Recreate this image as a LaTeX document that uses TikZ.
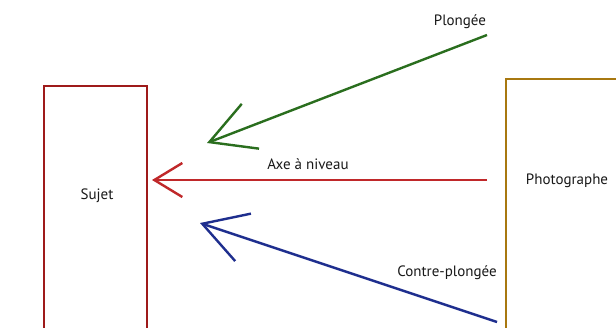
\documentclass[tikz,border=0pt]{standalone}
\usepackage{fontspec}
\setmainfont{PT Sans}
\usetikzlibrary{arrows.meta}
\definecolor{boxred}{HTML}{9E1A1A}
\definecolor{arrred}{HTML}{C0282A}
\definecolor{arrgreen}{HTML}{2A6E1E}
\definecolor{arrblue}{HTML}{1E2E8E}
\definecolor{boxgold}{HTML}{A87810}
\tikzset{
  lbl/.style={font=\fontsize{15}{17}\selectfont, inner sep=0pt, text=black!90},
  conn/.style={line width=2.4pt},
}
\begin{document}
\begin{tikzpicture}[x=1pt,y=-1pt]
\useasboundingbox (0,0) rectangle (616,327);
\fill[white] (0,0) rectangle (616,327);
% boxes
\draw[boxred, line width=2.4pt] (44,360) |- (147,86) -- (147,360);
\node[lbl] (sujet) at (97,196) {Sujet};
\draw[boxgold, line width=2.4pt] (506,360) |- (640,79);
\node[lbl] (photo) at (567,181) {Photographe};
% arrow coordinates
\coordinate (gs) at (487,35);
\coordinate (ge) at (207,143);
\coordinate (rs) at (487,180);
\coordinate (re) at (152,180);
\coordinate (bs) at (497,322);
\coordinate (be) at (200,223);
\draw[conn, arrgreen, -{Straight Barb[length=44pt,width=48pt,line width=2.4pt]}] (gs) -- (ge);
\draw[conn, arrred, -{Straight Barb[length=28pt,width=34pt,line width=2.4pt]}] (rs) -- (re);
\draw[conn, arrblue, -{Straight Barb[length=43pt,width=50pt,line width=2.4pt]}] (bs) -- (be);
% labels
\node[lbl] (plongee) at (460,22) {Plongée};
\node[lbl] (axe) at (308,164) {Axe à niveau};
\node[lbl] (contre) at (447,273) {Contre-plongée};
\end{tikzpicture}
\end{document}
